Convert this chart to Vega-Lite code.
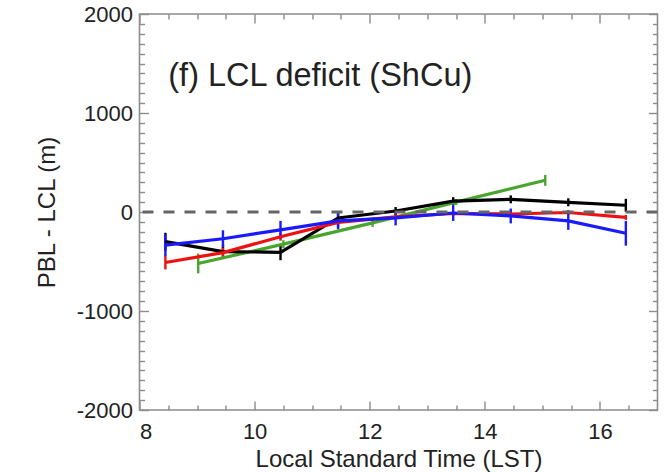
{
  "$schema": "https://vega.github.io/schema/vega-lite/v6.json",
  "autosize": {"type": "none"},
  "width": 518,
  "height": 396,
  "padding": {"left": 139.5, "top": 14, "right": 12.5, "bottom": 62},
  "background": "white",
  "config": {
    "view": {"stroke": "#8c8c8c", "strokeWidth": 1.6},
    "font": "Liberation Sans",
    "axis": {
      "domain": false,
      "grid": false,
      "tickColor": "#8c8c8c",
      "tickWidth": 1.4,
      "labelFont": "Liberation Sans",
      "titleFont": "Liberation Sans",
      "labelColor": "#222222",
      "titleColor": "#222222",
      "labelFontSize": 22,
      "titleFontSize": 24,
      "titleFontWeight": "normal"
    }
  },
  "datasets": {
    "series": [
      {"series": "green", "t": 9.02, "v": -520, "lo": -620, "hi": -420},
      {"series": "green", "t": 10.5, "v": -325, "lo": -365, "hi": -285},
      {"series": "green", "t": 12.05, "v": -110, "lo": -150, "hi": -70},
      {"series": "green", "t": 13.5, "v": 100, "lo": 70, "hi": 130},
      {"series": "green", "t": 15.05, "v": 320, "lo": 265, "hi": 375},
      {"series": "black", "t": 8.45, "v": -300, "lo": -390, "hi": -210},
      {"series": "black", "t": 9.45, "v": -400, "lo": -470, "hi": -330},
      {"series": "black", "t": 10.45, "v": -407, "lo": -487, "hi": -327},
      {"series": "black", "t": 11.45, "v": -60, "lo": -125, "hi": 5},
      {"series": "black", "t": 12.45, "v": 10, "lo": -30, "hi": 50},
      {"series": "black", "t": 13.45, "v": 110, "lo": 70, "hi": 150},
      {"series": "black", "t": 14.45, "v": 128, "lo": 88, "hi": 168},
      {"series": "black", "t": 15.45, "v": 98, "lo": 58, "hi": 138},
      {"series": "black", "t": 16.45, "v": 68, "lo": 3, "hi": 133},
      {"series": "red", "t": 8.45, "v": -510, "lo": -580, "hi": -440},
      {"series": "red", "t": 9.45, "v": -410, "lo": -460, "hi": -360},
      {"series": "red", "t": 10.45, "v": -250, "lo": -290, "hi": -210},
      {"series": "red", "t": 11.45, "v": -105, "lo": -155, "hi": -55},
      {"series": "red", "t": 12.45, "v": -50, "lo": -75, "hi": -25},
      {"series": "red", "t": 13.45, "v": -15, "lo": -40, "hi": 10},
      {"series": "red", "t": 14.45, "v": -20, "lo": -45, "hi": 5},
      {"series": "red", "t": 15.45, "v": -5, "lo": -30, "hi": 20},
      {"series": "red", "t": 16.45, "v": -55, "lo": -80, "hi": -30},
      {"series": "blue", "t": 8.45, "v": -335, "lo": -445, "hi": -225},
      {"series": "blue", "t": 9.45, "v": -270, "lo": -355, "hi": -185},
      {"series": "blue", "t": 10.45, "v": -180, "lo": -270, "hi": -90},
      {"series": "blue", "t": 11.45, "v": -90, "lo": -175, "hi": -5},
      {"series": "blue", "t": 12.45, "v": -60, "lo": -135, "hi": 15},
      {"series": "blue", "t": 13.45, "v": -10, "lo": -90, "hi": 70},
      {"series": "blue", "t": 14.45, "v": -40, "lo": -115, "hi": 35},
      {"series": "blue", "t": 15.45, "v": -90, "lo": -180, "hi": 0},
      {"series": "blue", "t": 16.45, "v": -215, "lo": -340, "hi": -90}
    ]
  },
  "data": {"name": "series"},
  "resolve": {"axis": {"x": "independent", "y": "independent"}},
  "layer": [
    {
      "mark": {"type": "rule", "strokeWidth": 2.4},
      "encoding": {
        "x": {
          "field": "t", "type": "quantitative",
          "scale": {"domain": [8, 17], "nice": false, "zero": false},
          "axis": {
            "orient": "bottom", "values": [8, 10, 12, 14, 16], "tickSize": -9,
            "labelPadding": 20, "labelExpr": "'' + datum.value", "title": "Local Standard Time (LST)",
            "titleY": 56, "titleBaseline": "alphabetic"
          }
        },
        "y": {
          "field": "lo", "type": "quantitative",
          "scale": {"domain": [-2000, 2000], "nice": false, "zero": false},
          "axis": {
            "orient": "left", "values": [-2000, -1000, 0, 1000, 2000], "tickSize": -9,
            "labelPadding": 16, "labelExpr": "'' + datum.value", "title": "PBL - LCL (m)",
            "titleX": -85.5, "titleBaseline": "alphabetic"
          }
        },
        "y2": {"field": "hi"},
        "color": {
          "field": "series", "type": "nominal",
          "scale": {"domain": ["black", "red", "blue", "green"], "range": ["#000000", "#ee1111", "#1a1aff", "#4aa52e"]},
          "legend": null
        }
      }
    },
    {
      "mark": {"type": "line", "strokeWidth": 3.2},
      "encoding": {
        "x": {
          "field": "t", "type": "quantitative",
          "axis": {
            "orient": "bottom", "values": [8.5, 9, 9.5, 10.5, 11, 11.5, 12.5, 13, 13.5, 14.5, 15, 15.5, 16.5],
            "tickSize": -5, "labels": false, "title": null
          }
        },
        "y": {
          "field": "v", "type": "quantitative",
          "axis": {
            "orient": "left",
            "values": [-1900, -1800, -1700, -1600, -1500, -1400, -1300, -1200, -1100, -900, -800, -700, -600, -500, -400, -300, -200, -100, 100, 200, 300, 400, 500, 600, 700, 800, 900, 1100, 1200, 1300, 1400, 1500, 1600, 1700, 1800, 1900],
            "tickSize": -5, "labels": false, "title": null
          }
        },
        "color": {"field": "series", "type": "nominal", "legend": null}
      }
    },
    {
      "mark": {"type": "point", "opacity": 0},
      "encoding": {
        "x": {
          "field": "t", "type": "quantitative",
          "axis": {"orient": "top", "values": [8, 10, 12, 14, 16], "tickSize": -9, "labels": false, "title": null}
        },
        "y": {
          "field": "v", "type": "quantitative",
          "axis": {"orient": "right", "values": [-2000, -1000, 0, 1000, 2000], "tickSize": -9, "labels": false, "title": null}
        }
      }
    },
    {
      "mark": {"type": "point", "opacity": 0},
      "encoding": {
        "x": {
          "field": "t", "type": "quantitative",
          "axis": {
            "orient": "top", "values": [8.5, 9, 9.5, 10.5, 11, 11.5, 12.5, 13, 13.5, 14.5, 15, 15.5, 16.5],
            "tickSize": -5, "labels": false, "title": null
          }
        },
        "y": {
          "field": "v", "type": "quantitative",
          "axis": {
            "orient": "right",
            "values": [-1900, -1800, -1700, -1600, -1500, -1400, -1300, -1200, -1100, -900, -800, -700, -600, -500, -400, -300, -200, -100, 100, 200, 300, 400, 500, 600, 700, 800, 900, 1100, 1200, 1300, 1400, 1500, 1600, 1700, 1800, 1900],
            "tickSize": -5, "labels": false, "title": null
          }
        }
      }
    },
    {
      "data": {"values": [{"zero": 0}]},
      "mark": {"type": "rule", "color": "#666666", "strokeWidth": 3, "strokeDash": [11, 10]},
      "encoding": {"y": {"field": "zero", "type": "quantitative", "axis": null}}
    },
    {
      "data": {"values": [{"label": "(f) LCL deficit (ShCu)", "tx": 8.5, "ty": 1273}]},
      "mark": {"type": "text", "align": "left", "baseline": "alphabetic", "fontSize": 32.5, "font": "Liberation Sans", "color": "#222222"},
      "encoding": {
        "text": {"field": "label"},
        "x": {"field": "tx", "type": "quantitative", "axis": null},
        "y": {"field": "ty", "type": "quantitative", "axis": null}
      }
    }
  ]
}
